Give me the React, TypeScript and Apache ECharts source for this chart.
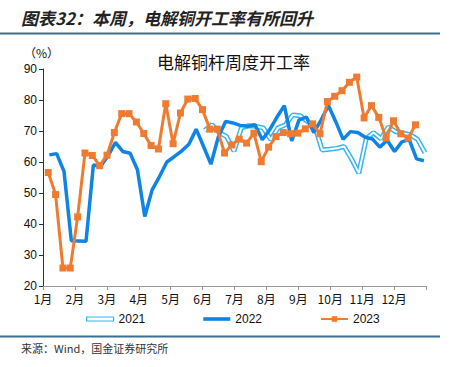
import React, { useEffect, useRef } from 'react';
import * as echarts from 'echarts';

const monthLabels = ['1月', '2月', '3月', '4月', '5月', '6月', '7月', '8月', '9月', '10月', '11月', '12月'];

// first week's day-of-year for each series (weekly data)
const start2021 = 154;
const start2022 = 6;
const start2023 = 5;

const values2021 = [
  70.2, 72.0, 69.5, 68.2, 63.5, 71.0, 71.7, 71.5, 71.0, 67.2,
  71.0, 72.0, 75.2, 74.9, 73.1, 71.5, 63.9, 64.1, 64.4, 65.0,
  61.0, 56.4, 67.5, 69.5, 67.5, 71.3, 69.8, 69.3, 68.8, 67.3, 63.0,
];

const values2022 = [
  62.3, 62.7, 57.0, 34.6, 34.5, 34.4, 59.0, 58.6, 62.0, 66.3,
  63.4, 62.8, 57.5, 42.4, 51.0, 55.3, 60.0, 61.7, 63.5, 65.7,
  70.6, 65.0, 59.3, 68.0, 73.1, 72.6, 71.8, 71.5, 72.0, 67.2,
  70.4, 74.5, 78.2, 66.8, 73.6, 74.5, 69.5, 73.5, 78.2, 73.0,
  67.3, 69.8, 69.5, 68.0, 67.4, 64.8, 67.0, 63.4, 66.5, 67.2,
  61.0, 60.4,
];

const values2023 = [
  56.6, 49.5, 25.8, 25.8, 42.3, 62.9, 62.1, 58.8, 62.2, 69.5,
  75.6, 75.6, 72.9, 69.2, 65.3, 64.2, 78.8, 65.9, 75.8, 80.3,
  80.5, 76.9, 70.6, 70.6, 62.9, 65.5, 67.4, 66.1, 69.3, 60.1,
  64.8, 68.2, 69.5, 69.1, 69.3, 70.7, 72.3, 69.1, 79.5, 81.2,
  83.0, 85.7, 87.4, 74.2, 78.2, 74.4, 67.7, 73.3, 69.1, 67.7,
  72.0,
];

const toPoints = (startDay: number, vals: number[]) =>
  vals.map((v, i) => [((startDay + 7 * i) / 365) * 12, v]);

const C2021 = '#35B6F0';
const C2022 = '#0E84E4';
const C2023 = '#EF7B30';
const RULE = '#3A6F95';

export default function App() {
  const ref = useRef<HTMLDivElement>(null);
  useEffect(() => {
    document.body.style.margin = '0';
    if (!ref.current) return;
    const chart = echarts.init(ref.current, null, { renderer: 'svg' });
    const latin = 'Liberation Sans, Arial, sans-serif';
    const cjk = '"Noto Sans CJK SC", sans-serif';
    chart.setOption({
      animation: false,
      backgroundColor: '#fff',
      title: {
        text: '电解铜杆周度开工率',
        left: 152,
        top: 48,
        textStyle: { fontSize: 17, fontWeight: 'normal', color: '#111', fontFamily: cjk },
      },
      grid: { left: 43, right: 26, top: 69, bottom: 81 },
      legend: {
        left: 81,
        top: 308,
        itemWidth: 27,
        itemHeight: 7,
        itemGap: 58,
        textStyle: { fontSize: 12, color: '#111', fontFamily: latin },
        data: [
          {
            name: '2021',
            icon: 'path://M0,0L27,0L27,4L0,4Z',
            itemStyle: { color: '#fff', borderColor: C2021, borderWidth: 1.2 },
          },
          {
            name: '2022',
            icon: 'path://M0,0L27,0L27,3.6L0,3.6Z',
            itemStyle: { color: C2022, borderWidth: 0 },
          },
          { name: '2023' },
        ],
      },
      xAxis: {
        type: 'value',
        min: 0,
        max: 12,
        interval: 1,
        axisLine: { lineStyle: { color: '#999', width: 1 } },
        axisTick: { show: true, length: 4, lineStyle: { color: '#999' } },
        splitLine: { show: false },
        axisLabel: {
          fontSize: 12,
          color: '#111',
          fontFamily: cjk,
          margin: 6,
          formatter: (v: number) => (v < 12 ? monthLabels[Math.round(v)] : ''),
        },
      },
      yAxis: {
        type: 'value',
        min: 20,
        max: 90,
        interval: 10,
        axisLine: { show: true, lineStyle: { color: '#333', width: 1 } },
        axisTick: { show: true, length: 4, lineStyle: { color: '#333' } },
        splitLine: { show: false },
        axisLabel: { fontSize: 12, color: '#111', fontFamily: latin, margin: 6 },
      },
      series: [
        {
          name: '2021',
          type: 'line',
          data: toPoints(start2021, values2021),
          symbol: 'none',
          lineStyle: { color: C2021, width: 5 },
          itemStyle: { color: C2021 },
          z: 1,
        },
        {
          name: '2021inner',
          type: 'line',
          data: toPoints(start2021, values2021),
          symbol: 'none',
          lineStyle: { color: '#fff', width: 2 },
          itemStyle: { color: '#fff' },
          z: 2,
        },
        {
          name: '2022',
          type: 'line',
          data: toPoints(start2022, values2022),
          symbol: 'none',
          lineStyle: { color: C2022, width: 3.5 },
          itemStyle: { color: C2022 },
          z: 3,
        },
        {
          name: '2023',
          type: 'line',
          data: toPoints(start2023, values2023),
          symbol: 'rect',
          symbolSize: 7,
          lineStyle: { color: C2023, width: 3 },
          itemStyle: { color: C2023 },
          z: 4,
        },
      ],
      graphic: [
        {
          type: 'text',
          left: 21,
          top: 9,
          style: {
            text: '图表32：本周，电解铜开工率有所回升',
            fontSize: 17,
            fontWeight: 'bold',
            fontStyle: 'italic',
            fill: '#222',
            fontFamily: cjk,
          },
        },
        {
          type: 'line',
          shape: { x1: 0, y1: 33.5, x2: 440, y2: 33.5 },
          style: { stroke: RULE, lineWidth: 2 },
        },
        {
          type: 'text',
          left: 24,
          top: 46,
          style: { text: '（%）', fontSize: 12, fill: '#111', fontFamily: cjk },
        },
        {
          type: 'line',
          shape: { x1: 0, y1: 336.5, x2: 440, y2: 336.5 },
          style: { stroke: RULE, lineWidth: 2 },
        },
        {
          type: 'text',
          left: 21,
          top: 342,
          style: { text: '来源：Wind，国金证券研究所', fontSize: 11, fill: '#333', fontFamily: cjk },
        },
      ],
    });
    return () => chart.dispose();
  }, []);
  return <div ref={ref} style={{ width: 452, height: 367 }} />;
}
